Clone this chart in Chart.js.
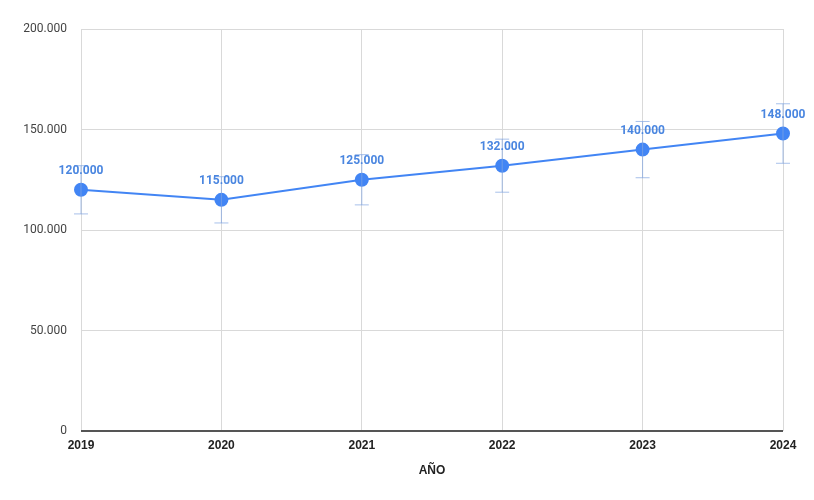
<!DOCTYPE html>
<html>
<head>
<meta charset="utf-8">
<script src="https://cdn.jsdelivr.net/npm/chart.js@4"></script>
<style>
  html, body { margin: 0; padding: 0; background: #fff; }
  #wrap { width: 814px; height: 500px; }
</style>
</head>
<body>
<div id="wrap"><canvas id="chart1"></canvas></div>
<script>
const years = ['2019', '2020', '2021', '2022', '2023', '2024'];
const values = [120000, 115000, 125000, 132000, 140000, 148000];
const errLow = [108000, 103500, 112500, 118800, 126000, 133200];
const errHigh = [132000, 126500, 137500, 145200, 154000, 162800];

const fmt = v => v.toLocaleString('de-DE');

// error bars + value labels, drawn through the scales
const extras = {
    id: 'extras',
    afterDatasetsDraw(chart) {
        const ctx = chart.ctx;
        const xs = chart.scales.x, ys = chart.scales.y;
        ctx.save();
        ctx.strokeStyle = 'rgba(130,165,225,0.7)';
        ctx.lineWidth = 1;
        values.forEach((v, i) => {
            const x = xs.getPixelForValue(i);
            const y1 = ys.getPixelForValue(errLow[i]);
            const y2 = ys.getPixelForValue(errHigh[i]);
            ctx.beginPath();
            ctx.moveTo(x, y1); ctx.lineTo(x, y2);
            ctx.moveTo(x - 7, y1); ctx.lineTo(x + 7, y1);
            ctx.moveTo(x - 7, y2); ctx.lineTo(x + 7, y2);
            ctx.stroke();
        });
        ctx.fillStyle = '#4a86e0';
        ctx.font = 'bold 12px Roboto, Arial, sans-serif';
        ctx.textAlign = 'center';
        ctx.textBaseline = 'bottom';
        values.forEach((v, i) => {
            const x = xs.getPixelForValue(i);
            const y = ys.getPixelForValue(v);
            ctx.fillText(fmt(v), x, y - 13);
        });
        ctx.restore();
    }
};

const config = {
    type: 'line',
    data: {
        labels: years,
        datasets: [{
            label: 'Valor',
            data: values,
            borderColor: '#4285f4',
            backgroundColor: '#4285f4',
            borderWidth: 2,
            pointRadius: 6,
            pointHoverRadius: 6,
            tension: 0
        }]
    },
    options: {
        responsive: true,
        maintainAspectRatio: false,
        animation: false,
        layout: { padding: { left: 0, right: 31, top: 29, bottom: 0 } },
        plugins: {
            legend: { display: false },
            tooltip: { enabled: false }
        },
        scales: {
            x: {
                offset: false,
                grid: { color: '#d9d9d9', drawTicks: false },
                border: { display: false },
                ticks: {
                    padding: 7,
                    color: '#222',
                    font: { family: 'Liberation Sans, Arial, sans-serif', size: 12, weight: 'bold' },
                    maxRotation: 0
                },
                title: {
                    display: true,
                    text: 'AÑO',
                    color: '#222',
                    font: { family: 'Liberation Sans, Arial, sans-serif', size: 12, weight: 'bold' },
                    padding: { top: 4, bottom: 22 }
                },
                afterFit(scale) { scale.height = 69; }
            },
            y: {
                min: 0,
                max: 200000,
                grid: {
                    drawTicks: false,
                    color: ctx => ctx.tick.value === 0 ? '#555' : '#d9d9d9',
                    lineWidth: ctx => ctx.tick.value === 0 ? 2 : 1
                },
                border: { display: false },
                ticks: {
                    stepSize: 50000,
                    padding: 14,
                    color: '#444',
                    font: { family: 'Roboto, Arial, sans-serif', size: 12 },
                    callback: v => fmt(v)
                },
                afterFit(scale) { scale.width = 81; }
            }
        }
    },
    plugins: [extras]
};

let chart1 = new Chart(document.getElementById('chart1'), config);
</script>
</body>
</html>
